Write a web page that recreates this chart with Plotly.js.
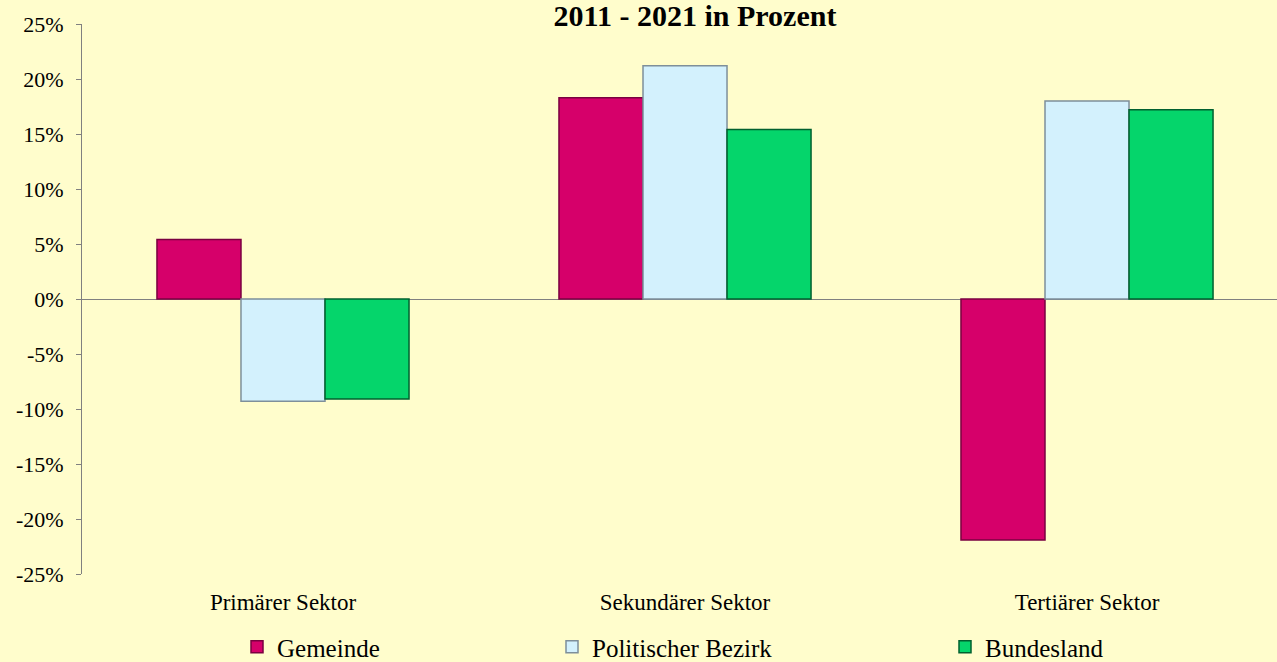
<!DOCTYPE html>
<html>
<head>
<meta charset="utf-8">
<script src="https://cdn.plot.ly/plotly-3.0.1.min.js"></script>
<style>html,body{margin:0;padding:0;background:#FFFDCC;}#chart{width:1277px;height:662px;}</style>
</head>
<body>
<div id="chart"></div>
<script>
const categories = ['Primärer Sektor', 'Sekundärer Sektor', 'Tertiärer Sektor'];
const seriesNames = ['Gemeinde', 'Politischer Bezirk', 'Bundesland'];
const gemeinde = [5.4, 18.3, -21.9];
const politischerBezirk = [-9.3, 21.2, 18.0];
const bundesland = [-9.1, 15.4, 17.2];
const yTickVals = [-25, -20, -15, -10, -5, 0, 5, 10, 15, 20, 25];
const yTickText = ['-25%', '-20%', '-15%', '-10%', '-5%', '0%', '5%', '10%', '15%', '20%', '25%'];
const titleText = '2011 - 2021 in Prozent';

const FONT = 'Liberation Serif, Times New Roman, Times, serif';
const fills = ['#D6006A', '#D3F1FD', '#05D56B'];
const edges = ['#7A0040', '#7E8F9A', '#01602F'];
const seriesValues = [gemeinde, politischerBezirk, bundesland];
const legendIds = ['legend', 'legend2', 'legend3'];

const traces = seriesValues.map((vals, i) => ({
  type: 'bar',
  name: seriesNames[i],
  x: categories,
  y: vals,
  legend: legendIds[i],
  marker: {color: fills[i], line: {color: edges[i], width: 1.5}},
  hoverinfo: 'x+y+name'
}));

const legendBase = {
  orientation: 'h', yref: 'container', yanchor: 'middle', y: (662 - 647) / 662,
  xanchor: 'left',
  bgcolor: 'rgba(0,0,0,0)', font: {family: FONT, size: 25, color: '#000'},
  itemwidth: 30
};

const layout = {
  width: 1277, height: 662,
  paper_bgcolor: '#FFFDCC',
  plot_bgcolor: '#FFFDCC',
  margin: {l: 82, r: 0, t: 24, b: 88, autoexpand: false},
  font: {family: FONT, color: '#000'},
  title: {
    text: '<b>' + titleText + '</b>',
    font: {family: FONT, size: 30, color: '#000'},
    x: 695 / 1277, xanchor: 'center', xref: 'container',
    y: 1 - 26 / 662, yanchor: 'bottom', yref: 'container'
  },
  barmode: 'group',
  bargap: 0.373,
  bargroupgap: 0,
  xaxis: {
    type: 'category',
    range: [-0.5, 2.4726],
    showline: false, ticks: '', showgrid: false, zeroline: false,
    tickfont: {family: FONT, size: 23, color: '#000'},
    ticklabelstandoff: 12
  },
  yaxis: {
    range: [-25, 25],
    tickvals: yTickVals, ticktext: yTickText,
    showline: true, linecolor: '#808080', linewidth: 1,
    ticks: 'outside', ticklen: 5, tickcolor: '#808080',
    showgrid: false,
    zeroline: true, zerolinecolor: '#808080', zerolinewidth: 1,
    tickfont: {family: FONT, size: 22, color: '#000'},
    ticklabelstandoff: 8
  },
  legend: Object.assign({}, legendBase, {x: (237 - 82) / 1195}),
  legend2: Object.assign({}, legendBase, {x: (552 - 82) / 1195}),
  legend3: Object.assign({}, legendBase, {x: (945 - 82) / 1195}),
  showlegend: true
};

Plotly.newPlot('chart', traces, layout, {displayModeBar: false, responsive: false});
</script>
</body>
</html>
